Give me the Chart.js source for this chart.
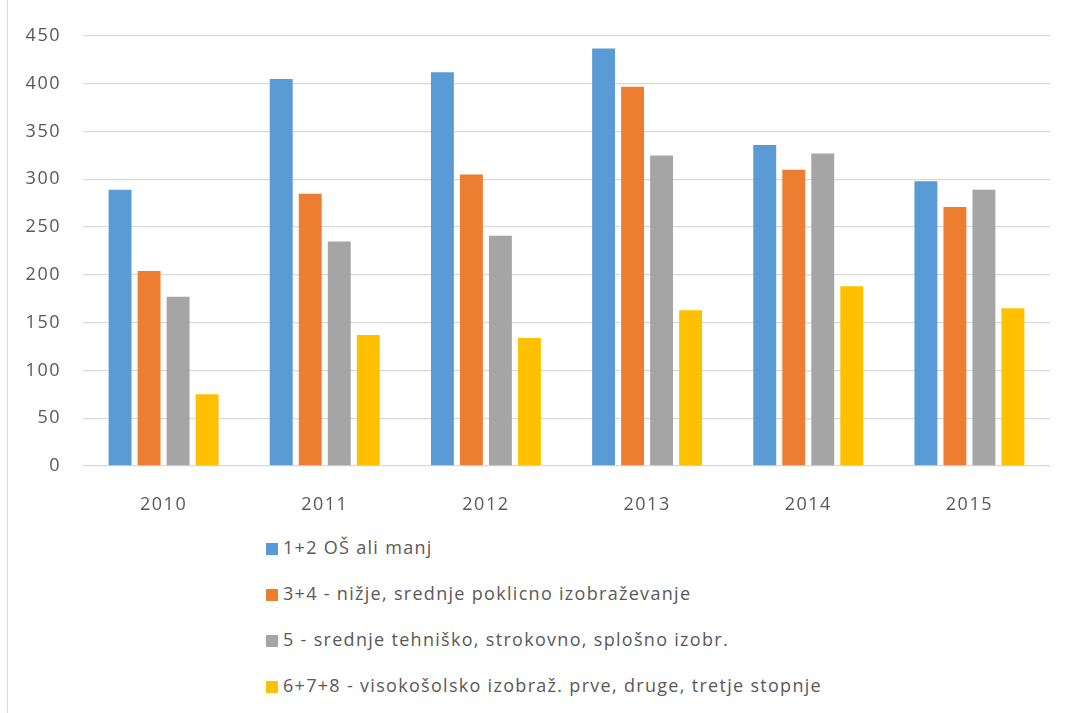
<!DOCTYPE html>
<html lang="sl">
<head>
<meta charset="UTF-8">
<title>Izobrazba</title>
<script src="https://cdn.jsdelivr.net/npm/chart.js"></script>
<style>
  body { margin: 0; background: #fff; }
  #wrap { position: relative; width: 1066px; height: 713px; overflow: hidden; }
  #frame { position: absolute; left: 7px; top: 0; width: 0; height: 713px; border-left: 1px solid #d9d9d9; }
  #chartBox { position: absolute; left: 0; top: 0; width: 1066px; height: 516px; }
  #legend { position: absolute; left: 266px; top: 535px; font-family: "Open Sans", "Liberation Sans", sans-serif; font-size: 18px; letter-spacing: 1.3px; color: #595959; }
  .item { height: 46px; display: flex; align-items: flex-start; }
  .box { width: 12px; height: 12px; margin: 8px 5px 0 0; }
</style>
</head>
<body>
<div id="wrap">
  <div id="frame"></div>
  <div id="chartBox"><canvas id="myChart"></canvas></div>
  <div id="legend"></div>
</div>
<script>
// Input data
const years = ['2010', '2011', '2012', '2013', '2014', '2015'];
const seriesNames = [
  '1+2 OŠ ali manj',
  '3+4 - nižje, srednje poklicno izobraževanje',
  '5 - srednje tehniško, strokovno, splošno izobr.',
  '6+7+8 - visokošolsko izobraž. prve, druge, tretje stopnje'
];
const osnovna = [289, 405, 412, 437, 336, 298];
const poklicna = [204, 285, 305, 397, 310, 271];
const srednja = [177, 235, 241, 325, 327, 289];
const visoka = [75, 137, 134, 163, 188, 165];
const colors = ['#5b9bd5', '#ed7d31', '#a5a5a5', '#ffc000'];

const values = [osnovna, poklicna, srednja, visoka];
const tickFont = { family: '"Open Sans", "Liberation Sans", sans-serif', size: 18 };

// wider letters like the original
const spacing = {
  id: 'spacing',
  beforeLayout: c => { c.ctx.letterSpacing = '1.5px'; },
  beforeDraw: c => { c.ctx.letterSpacing = '1.5px'; }
};

const ctx = document.getElementById('myChart').getContext('2d');
const myChart = new Chart(ctx, {
  type: 'bar',
  data: {
    labels: years,
    datasets: values.map((v, i) => ({
      label: seriesNames[i],
      data: v,
      backgroundColor: colors[i],
      categoryPercentage: 0.72,
      barPercentage: 0.79
    }))
  },
  options: {
    responsive: true,
    maintainAspectRatio: false,
    animation: false,
    layout: { padding: { top: 36, right: 16, left: 0, bottom: 0 } },
    plugins: {
      legend: { display: false },
      tooltip: { enabled: false }
    },
    scales: {
      x: {
        grid: { display: false },
        border: { display: false },
        ticks: { color: '#595959', font: tickFont, padding: 20 },
        afterFit: s => { s.height = 50; }
      },
      y: {
        min: 0,
        max: 450,
        grid: { color: '#d9d9d9', lineWidth: 1.3, drawTicks: false },
        border: { display: false },
        ticks: { stepSize: 50, color: '#595959', font: tickFont, padding: 22 },
        afterFit: s => { s.width = 83; }
      }
    }
  },
  plugins: [spacing]
});

// legend, one item per line
const legend = document.getElementById('legend');
seriesNames.forEach((name, i) => {
  const row = document.createElement('div');
  row.className = 'item';
  row.innerHTML = '<span class="box" style="background:' + colors[i] + '"></span><span>' + name + '</span>';
  legend.appendChild(row);
});
</script>
</body>
</html>
